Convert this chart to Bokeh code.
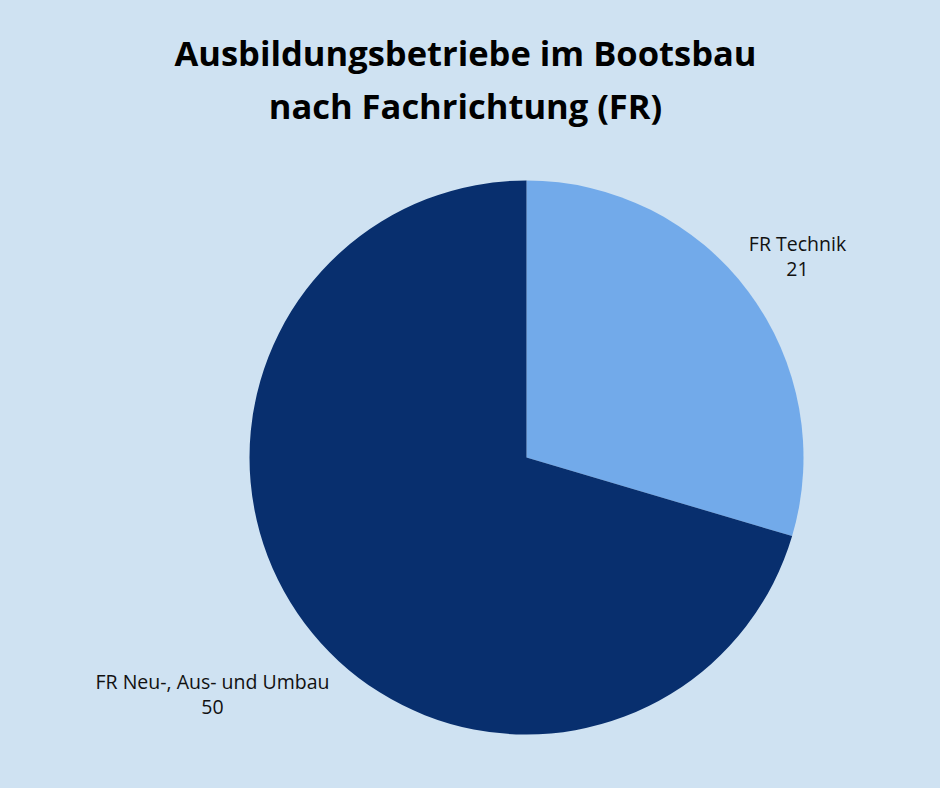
import math
from bokeh.plotting import figure
from bokeh.models import Range1d, ColumnDataSource
from bokeh.core.properties import value
from bokeh.embed import file_html
from bokeh.resources import INLINE

categories = ["FR Technik", "FR Neu-, Aus- und Umbau"]
counts = [21, 50]
colors = ["#72aaea", "#082f6e"]
title_lines = ["Ausbildungsbetriebe im Bootsbau", "nach Fachrichtung (FR)"]

BG = "#cfe2f2"
W, H = 924, 772

p = figure(width=W, height=H, output_backend="svg", toolbar_location=None,
           x_range=Range1d(0, W), y_range=Range1d(788 - H, 788),
           min_border=0, background_fill_color=BG, border_fill_color=BG,
           outline_line_color=None)
p.axis.visible = False
p.grid.visible = False

total = sum(counts)
cx, cy, r = 526, 788 - 457, 277
starts, ends = [], []
a = math.pi / 2
for c in counts:
    starts.append(a)
    a -= c / total * 2 * math.pi
    ends.append(a)

src = ColumnDataSource(dict(start=starts, end=ends, color=colors))
p.wedge(x=cx, y=cy, radius=r, start_angle="start", end_angle="end",
        direction="clock", fill_color="color", line_color=None, source=src)

# labels
lab_x = [797, 212]
lab_y = [788 - 243, 788 - 681]
p.text(x=lab_x, y=lab_y, text=categories, text_align="center",
       text_baseline="middle", text_font=value("Open Sans"),
       text_font_size="19.5px", text_color="#111111")
p.text(x=lab_x, y=[v - 25 for v in lab_y], text=[str(c) for c in counts],
       text_align="center", text_baseline="middle", text_font=value("Open Sans"),
       text_font_size="19.5px", text_color="#111111")

p.text(x=[465, 465], y=[788 - 52, 788 - 105], text=title_lines,
       text_align="center", text_baseline="middle", text_font=value("Open Sans"),
       text_font_style="bold", text_font_size="34.5px", text_color="#000000")

html = file_html(p, INLINE)
html = html.replace("<head>", "<head><style>html,body{background:%s !important;margin:0 !important;padding:0 !important}</style>" % BG, 1)
open("out.html", "w").write(html)
